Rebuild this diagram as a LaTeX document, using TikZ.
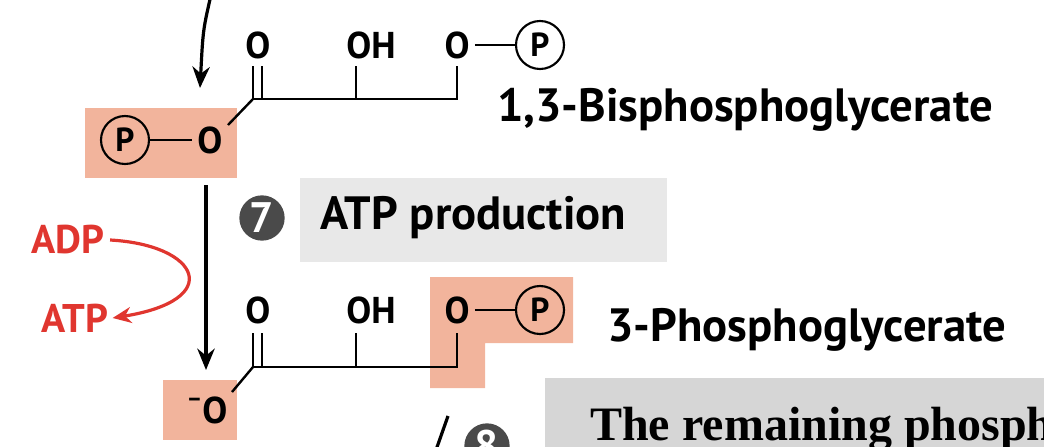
\documentclass[tikz,border=0pt]{standalone}
\usepackage{fontspec}
\setmainfont{Liberation Serif}
\setsansfont{PT Sans}
\usetikzlibrary{arrows.meta}
\definecolor{pinkbg}{HTML}{F2B49C}
\definecolor{redc}{HTML}{E0362F}
\definecolor{grayc}{HTML}{4A4A4A}
\tikzset{
 lbl/.style={font=\sffamily\bfseries\fontsize{35}{38}\selectfont, inner sep=0pt},
 atom/.style={font=\sffamily\bfseries\fontsize{28}{30}\selectfont, inner sep=0pt},
 pcirc/.style={circle, draw, line width=1.6pt, minimum size=36pt, inner sep=0pt, font=\sffamily\bfseries\fontsize{25}{26}\selectfont},
 bond/.style={line width=1.8pt},
 num/.style={circle, fill=grayc, text=white, minimum size=34pt, inner sep=0pt, font=\sffamily\bfseries\fontsize{32}{32}\selectfont},
 redl/.style={font=\sffamily\bfseries\fontsize{30}{32}\selectfont, text=redc, inner sep=0pt},
 arr/.style={line width=2.4pt, -{Stealth[length=16pt,width=13pt]}},
}
\begin{document}
\begin{tikzpicture}[x=0.75pt,y=-0.75pt]
\useasboundingbox (0,0) rectangle (1044,446);
\clip (0,0) rectangle (1044,446);
% backgrounds
\fill[pinkbg] (85,108) rectangle (237,178);
\fill[pinkbg] (430,277) -- (573,277) -- (573,343) -- (485,343) -- (485,388) -- (430,388) -- cycle;
\fill[pinkbg] (163,380) rectangle (237,440);
\fill[black!9] (300,178) rectangle (667,262);
\fill[black!16] (545,378) rectangle (1050,450);
% top molecule
\node[atom] (o1) at (258,45) {O};
\node[atom] (oh1) at (371,45) {OH};
\node[atom] (o2) at (457,45) {O};
\node[pcirc] (p1) at (540,45) {P};
\draw[bond] (o2.east) ++(5,0) -- (p1.west);
\coordinate (c3) at (457,99);
\draw[bond] (253,66) -- (253,99) (262,66) -- (262,99);
\draw[bond] (253,99) -- (c3) -- (457,66);
\draw[bond] (356,66) -- (356,99);
\node[pcirc] (p2) at (125,140) {P};
\node[atom] (o3) at (210,140) {O};
\draw[bond] (p2.east) -- ([xshift=-4pt]o3.west);
\draw[bond] (253,99) -- (228,125);
\node[lbl, anchor=west] (n1) at (497,110) {1,3-Bisphosphoglycerate};
% incoming arrow
\coordinate (in0) at (211,-5);
\coordinate (in1) at (200,88);
\draw[arr] (in0) .. controls (203,30) .. (in1);
% step 7
\coordinate (a0) at (206,185);
\coordinate (a1) at (206,370);
\draw[arr] (a0) -- (a1);
\node[num] (s7) at (262,218) {7};
\node[lbl, anchor=west] (t7) at (320,218) {ATP production};
\node[redl] (adp) at (68,240) {ADP};
\node[redl] (atp) at (75,318) {ATP};
\draw[redc, line width=2.4pt, -{Stealth[length=14pt,width=12pt]}] ([xshift=4pt]adp.east) .. controls (200,245) and (225,300) .. ([xshift=3pt]atp.east);
% bottom molecule
\node[atom] (o4) at (258,310) {O};
\node[atom] (oh2) at (371,310) {OH};
\node[atom] (o5) at (457,310) {O};
\node[pcirc] (p3) at (540,310) {P};
\draw[bond] (o5.east) ++(5,0) -- (p3.west);
\draw[bond] (253,333) -- (253,367) (262,333) -- (262,367);
\draw[bond] (253,367) -- (457,367) -- (457,333);
\draw[bond] (356,333) -- (356,367);
\draw[bond] (253,367) -- (232,392);
\node[atom] (o6) at (207,410) {\raisebox{0.45em}{\fontsize{18}{18}\selectfont –}O};
\node[lbl, anchor=west] (n2) at (607,330) {3-Phosphoglycerate};
% step 8 partial
\node[num] (s8) at (487,446) {8};
\draw[line width=2.4pt] (436,450) -- (448,416);
\node[anchor=base west, inner sep=0pt, font=\bfseries\fontsize{36}{38}\selectfont] (t8) at (590,440) {The remaining phosphate};
\end{tikzpicture}
\end{document}
